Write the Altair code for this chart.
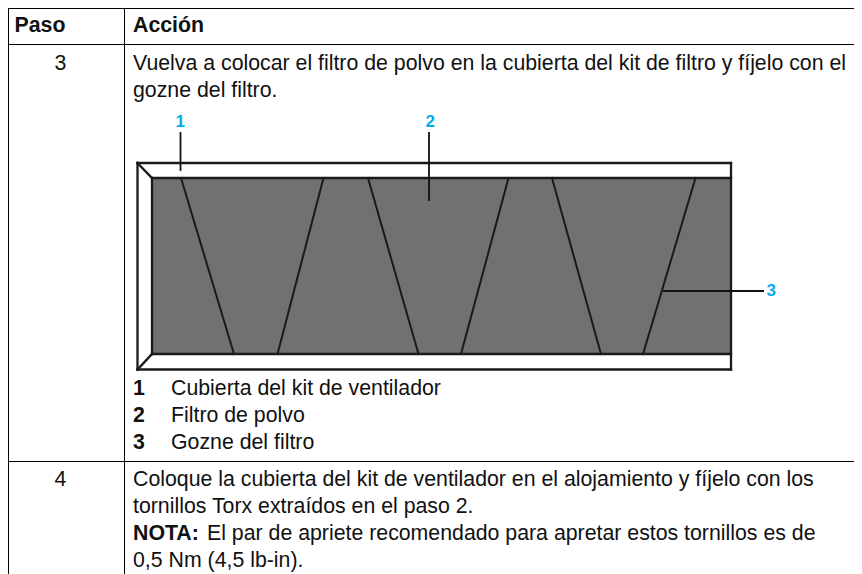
import altair as alt
import pandas as pd

# Table rules (page pixels): x, y, x2, y2
table_x1 = [8.5, 8.5, 8.5, 8.5, 124.5]
table_y1 = [8.5, 44.5, 461.5, 8.5, 8.5]
table_x2 = [854, 854, 854, 8.5, 124.5]
table_y2 = [8.5, 44.5, 461.5, 574, 574]

# Filter panel
panel_x = [152]
panel_x2 = [731]
panel_y = [178]
panel_y2 = [354]

# Frame and mitres
frame_x1 = [137.5, 731, 731, 137.5, 137.5, 137.5, 152, 152, 152]
frame_y1 = [163, 163, 369.5, 369.5, 163, 369.5, 178, 354, 178]
frame_x2 = [731, 731, 137.5, 137.5, 152, 152, 731, 731, 152]
frame_y2 = [163, 369.5, 369.5, 163, 178, 354, 178, 354, 354]

# Hinge lines
hinge_top = [181, 323.5, 368, 508.5, 552, 695.5]
hinge_bottom = [234, 277.5, 418.5, 461, 601, 643]
hinge_y1 = [178] * 6
hinge_y2 = [354] * 6

# Callout leaders
lead_x1 = [180.5, 429, 664]
lead_y1 = [133, 133, 291]
lead_x2 = [180.5, 429, 763]
lead_y2 = [170, 200, 291]

# Callout numbers
call_text = ["1", "2", "3"]
call_x = [175.5, 425.5, 766.5]
call_y = [127, 127, 296]

# Regular text
reg_text = [
    "3", "4",
    "Vuelva a colocar el filtro de polvo en la cubierta del kit de filtro y fíjelo con el",
    "gozne del filtro.",
    "Cubierta del kit de ventilador", "Filtro de polvo", "Gozne del filtro",
    "Coloque la cubierta del kit de ventilador en el alojamiento y fíjelo con los",
    "tornillos Torx extraídos en el paso 2.",
    "El par de apriete recomendado para apretar estos tornillos es de",
    "0,5 Nm (4,5 lb-in).",
]
reg_x = [54.5, 54.5, 133, 133, 171, 171, 171, 133, 133, 207, 133]
reg_y = [70, 486, 70, 97, 395, 422, 449, 486, 513, 540, 567]

# Bold text
bold_text = ["Paso", "Acción", "1", "2", "3", "NOTA:"]
bold_x = [14.5, 133, 133, 133, 133, 133]
bold_y = [32, 32, 395, 422, 449, 540]

W, H = 846, 566
xs = alt.Scale(domain=[8, 854], nice=False, zero=False)
ys = alt.Scale(domain=[574, 8], nice=False, zero=False)
X = lambda f: alt.X(f, type="quantitative", scale=xs, axis=None)
Y = lambda f: alt.Y(f, type="quantitative", scale=ys, axis=None)


def segs(x1, y1, x2, y2, color, width):
    df = pd.DataFrame({"a": x1, "b": y1, "c": x2, "d": y2})
    return alt.Chart(df).mark_rule(color=color, strokeWidth=width, strokeCap="square").encode(
        x=X("a"), y=Y("b"), x2="c", y2="d")


def texts(t, x, y, color, size, bold=False):
    df = pd.DataFrame({"t": t, "a": x, "b": y})
    return alt.Chart(df).mark_text(
        align="left", baseline="alphabetic", font="Liberation Sans", fontSize=size,
        fontWeight="bold" if bold else "normal", color=color,
    ).encode(x=X("a"), y=Y("b"), text="t")


panel = alt.Chart(pd.DataFrame({"a": panel_x, "c": panel_x2, "b": panel_y, "d": panel_y2})).mark_rect(
    color="#707173").encode(x=X("a"), x2="c", y=Y("b"), y2="d")

chart = alt.layer(
    panel,
    segs(frame_x1, frame_y1, frame_x2, frame_y2, "#1a1a1a", 2.3),
    segs(hinge_top, hinge_y1, hinge_bottom, hinge_y2, "#1a1a1a", 2),
    segs(lead_x1, lead_y1, lead_x2, lead_y2, "#111111", 1.8),
    segs(table_x1, table_y1, table_x2, table_y2, "#000000", 1),
    texts(reg_text, reg_x, reg_y, "#111111", 21.3),
    texts(bold_text, bold_x, bold_y, "#111111", 21.3, True),
    texts(call_text, call_x, call_y, "#00AEEF", 17, True),
).properties(
    width=W, height=H, padding=0, autosize=alt.AutoSizeParams(type="none"),
).configure_view(stroke=None).configure(background="white")

chart.save("out.html", embed_options={"renderer": "svg", "actions": False})
